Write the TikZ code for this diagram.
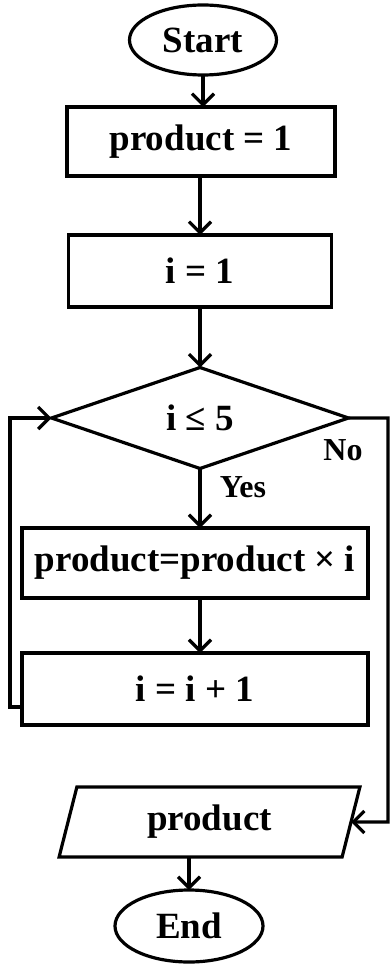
\documentclass[tikz,border=0pt]{standalone}
\usepackage{fontspec}
\setmainfont{Liberation Serif}
\usetikzlibrary{shapes.geometric,arrows.meta}
\begin{document}
\begin{tikzpicture}[x=1pt,y=1pt,
  every node/.style={font=\fontsize{37}{40}\selectfont\bfseries, inner sep=0pt, outer sep=0pt},
  lw/.style={line width=3.2pt},
  term/.style={lw, draw, ellipse},
  proc/.style={lw, draw, rectangle},
  dec/.style={lw, draw, diamond, aspect=3},
  io/.style={lw, draw, trapezium, trapezium left angle=76, trapezium right angle=104, trapezium stretches=true},
  lab/.style={font=\fontsize{32}{34}\selectfont\bfseries},
  arr/.style={lw, -{Straight Barb[length=11pt,width=22pt,line width=3.2pt]}, line join=miter}
]
\useasboundingbox (0,0) rectangle (390,-965);
\node[term, minimum width=147pt, minimum height=70pt] (start) at (203,-40) {Start};
\node[proc, minimum width=268pt, minimum height=69pt] (b1) at (201,-141.5) {product = 1};
\node[proc, minimum width=263pt, minimum height=72pt] (b2) at (200,-271) {i = 1};
\node[dec, minimum width=297pt, minimum height=101pt] (d) at (200,-418) {i ≤ 5};
\node[proc, minimum width=346pt, minimum height=70pt] (b3) at (195,-563) {product=product × i};
\node[proc, minimum width=346pt, minimum height=72pt] (b4) at (195,-689) {i = i + 1};
\node[io, minimum width=301pt, minimum height=70pt] (p) at (209.5,-822) {product};
\node[term, minimum width=148pt, minimum height=72pt] (end) at (189,-926) {End};
\node[lab] (yes) at (243,-487) {Yes};
\node[lab] (no) at (343,-450) {No};
\coordinate (lc) at (10,-707);
\coordinate (lt) at (10,-418);
\coordinate (nr) at (388,-418);
\coordinate (nb) at (388,-822);
\draw[arr] (start.south) -- (start.south |- b1.north);
\draw[arr] (b1.south -| b2.north) -- (b2.north);
\draw[arr] (b2.south) -- (d.north);
\draw[arr] (d.south) -- (d.south |- b3.north);
\draw[arr] (b3.south -| d.south) -- (d.south |- b4.north);
\draw[arr] ([yshift=-18pt]b4.west) -- (lc) -- (lt) -- (d.west);
\draw[arr] (d.east) -- (nr) -- (nb) -- (p.east);
\draw[arr] (end.north |- p.south) -- (end.north);
\end{tikzpicture}
\end{document}
